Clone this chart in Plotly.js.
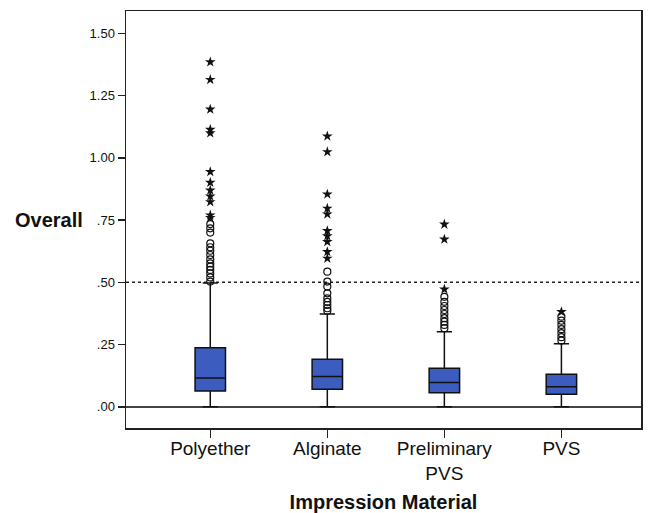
<!DOCTYPE html>
<html>
<head>
<meta charset="utf-8">
<script src="https://cdn.plot.ly/plotly-3.0.1.min.js"></script>
<style>html,body{margin:0;padding:0;background:#fff;}#chart{width:650px;height:513px;}</style>
</head>
<body>
<div id="chart"></div>
<script>
// Categories and tick labels
const categories = ["Polyether", "Alginate", "Preliminary PVS", "PVS"];
const categoryLabels = ["Polyether", "Alginate", "Preliminary<br>PVS", "PVS"];
const yTickVals = [0, 0.25, 0.5, 0.75, 1.0, 1.25, 1.5];
const yTickText = [".00", ".25", ".50", ".75", "1.00", "1.25", "1.50"];

// Box statistics
const q1 = [0.064, 0.071, 0.057, 0.051];
const median = [0.116, 0.122, 0.098, 0.081];
const q3 = [0.237, 0.191, 0.155, 0.131];
const lowerFence = [0.0, 0.0, 0.0, 0.0];
const upperFence = [0.497, 0.373, 0.302, 0.253];

// Outliers (circles) per category
const circPolyether = [0.503, 0.520, 0.536, 0.550, 0.563, 0.576, 0.592, 0.610, 0.627, 0.641, 0.657, 0.700, 0.717, 0.734];
const circAlginate = [0.386, 0.396, 0.409, 0.422, 0.436, 0.456, 0.483, 0.503, 0.543];
const circPrelim = [0.316, 0.329, 0.342, 0.356, 0.373, 0.389, 0.405, 0.422, 0.442];
const circPVS = [0.266, 0.280, 0.296, 0.312, 0.329, 0.346, 0.362];

// Extreme outliers (stars) per category
const starPolyether = [0.760, 0.770, 0.823, 0.846, 0.870, 0.901, 0.944, 1.100, 1.114, 1.195, 1.314, 1.385];
const starAlginate = [0.596, 0.623, 0.663, 0.686, 0.707, 0.774, 0.797, 0.854, 1.024, 1.087];
const starPrelim = [0.472, 0.673, 0.733];
const starPVS = [0.382];

const circles = [circPolyether, circAlginate, circPrelim, circPVS];
const stars = [starPolyether, starAlginate, starPrelim, starPVS];

function flatten(groups) {
  const xs = [], ys = [];
  groups.forEach((g, i) => g.forEach(v => { xs.push(categories[i]); ys.push(v); }));
  return {x: xs, y: ys};
}
const circ = flatten(circles);
const star = flatten(stars);

const traces = [
  {
    type: "box",
    x: categories,
    q1: q1, median: median, q3: q3,
    lowerfence: lowerFence, upperfence: upperFence,
    width: 0.26,
    whiskerwidth: 0.5,
    fillcolor: "#3d5cc0",
    line: {color: "#111", width: 1.5},
    boxpoints: false,
    hoverinfo: "skip",
    showlegend: false
  },
  {
    type: "scatter", mode: "markers",
    x: circ.x, y: circ.y,
    marker: {symbol: "circle-open", size: 7, color: "#111", line: {width: 1.2, color: "#111"}},
    showlegend: false
  },
  {
    type: "scatter", mode: "markers",
    x: star.x, y: star.y,
    marker: {symbol: "star", size: 8, color: "#111", line: {width: 0}},
    showlegend: false
  }
];

const layout = {
  width: 650, height: 513,
  margin: {l: 126, r: 9, t: 11, b: 85},
  paper_bgcolor: "#fff", plot_bgcolor: "#fff",
  font: {family: "Liberation Sans, Arial, sans-serif", color: "#111"},
  xaxis: {
    type: "category",
    categoryorder: "array", categoryarray: categories,
    tickvals: categories, ticktext: categoryLabels,
    range: [-0.72, 3.68],
    ticks: "outside", ticklen: 8, tickwidth: 1.5, tickcolor: "#222",
    ticklabelstandoff: -5,
    showline: true, linecolor: "#222", linewidth: 1.5, mirror: true,
    showgrid: false, zeroline: false,
    tickfont: {size: 19, color: "#111"},
    title: {text: "<b>Impression Material</b>", font: {size: 20, color: "#111"}, standoff: 26}
  },
  yaxis: {
    range: [-0.085, 1.59],
    tickvals: yTickVals, ticktext: yTickText,
    ticks: "outside", ticklen: 7, tickwidth: 1.5, tickcolor: "#222",
    showline: true, linecolor: "#222", linewidth: 1.5, mirror: true,
    showgrid: false,
    zeroline: true, zerolinecolor: "#444", zerolinewidth: 1.5,
    tickfont: {size: 13, color: "#111"}
  },
  shapes: [
    {type: "line", xref: "paper", yref: "y", x0: 0, x1: 1, y0: 0.5, y1: 0.5,
     line: {color: "#222", width: 1.5, dash: "dot"}, layer: "below"}
  ],
  annotations: [
    {text: "<b>Overall</b>", xref: "paper", yref: "y", x: -0.08, y: 0.75,
     xanchor: "right", yanchor: "middle", showarrow: false, font: {size: 20, color: "#111"}}
  ]
};

Plotly.newPlot("chart", traces, layout, {displayModeBar: false, staticPlot: true});
</script>
</body>
</html>
